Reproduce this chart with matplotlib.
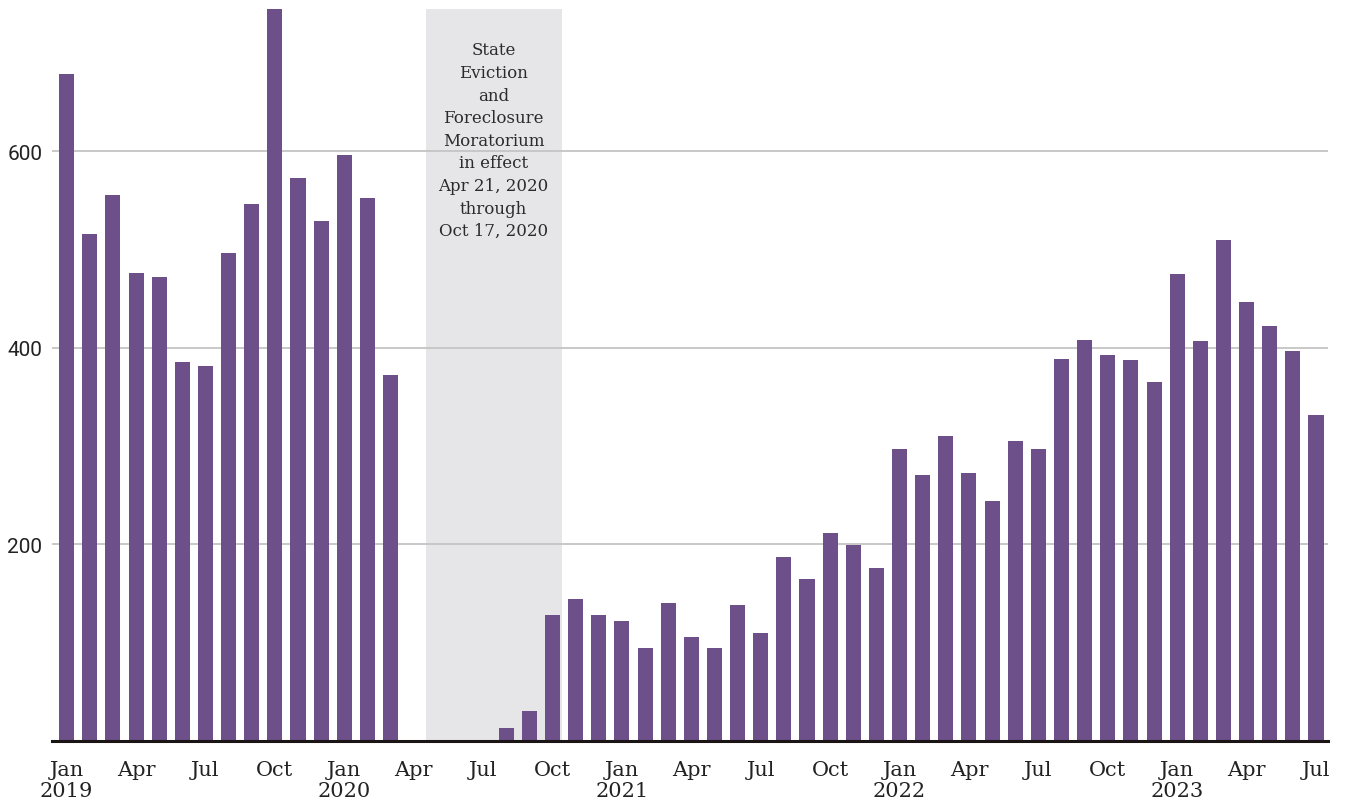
import matplotlib

matplotlib.use('Agg')

import matplotlib.pyplot as plt
import numpy as np

# monthly filings, Jan 2019 through Jul 2023
months = ['Jan', 'Feb', 'Mar', 'Apr', 'May', 'Jun', 'Jul', 'Aug', 'Sep', 'Oct', 'Nov', 'Dec']
years = [2019, 2020, 2021, 2022, 2023]

filings_2019 = [679, 516, 556, 476, 472, 386, 382, 497, 547, 745, 573, 529]
filings_2020 = [596, 553, 373, 0, 0, 0, 0, 13, 31, 128, 145, 128]
filings_2021 = [122, 95, 140, 106, 95, 138, 110, 187, 165, 212, 199, 176]
filings_2022 = [297, 271, 310, 273, 244, 305, 297, 389, 408, 393, 388, 365]
filings_2023 = [475, 407, 510, 447, 422, 397, 332]

moratorium_text = ('State\nEviction\nand\nForeclosure\nMoratorium\nin effect\n'
                   'Apr 21, 2020\nthrough\nOct 17, 2020')

filings = filings_2019 + filings_2020 + filings_2021 + filings_2022 + filings_2023
labels = []
for y in years:
    for m in months:
        labels.append((m, y))
labels = labels[:len(filings)]

bar_color = '#6d4f89'
shade_color = '#e6e6e8'
serif = 'DejaVu Serif'

fig = plt.figure(figsize=(13.48, 8.03), dpi=100)
ax = fig.add_axes([0.0386, 0.0760, 0.9466, 0.9115])

x = np.arange(len(filings))
ax.bar(x, filings, width=0.65, color=bar_color, zorder=2)

# moratorium period behind the bars, grid lines still visible across it
ax.axvspan(15.52, 21.39, color=shade_color, lw=0, zorder=0.5)
ax.text((15.52 + 21.39) / 2, 712, moratorium_text, ha='center', va='top',
        fontsize=12, family=serif, color='#2b2b2b', linespacing=1.43, zorder=4)

ax.set_xlim(-0.63, 54.52)
ax.set_ylim(0, 745)

ax.set_yticks([200, 400, 600])
ax.set_yticklabels(['200', '400', '600'], family='Roboto')
ax.yaxis.grid(True, color='#c4c4c4', lw=1.3, zorder=1)

ticks = [i for i in range(len(filings)) if i % 3 == 0]
tick_labels = []
for i in ticks:
    m, y = labels[i]
    tick_labels.append('%s\n%d' % (m, y) if m == 'Jan' else m)
ax.set_xticks(ticks)
ax.set_xticklabels(tick_labels, family=serif, fontsize=15, color='#222222',
                   linespacing=1.12)

ax.tick_params(axis='both', length=0)
ax.tick_params(axis='x', pad=14)
ax.tick_params(axis='y', pad=7, labelsize=15, labelcolor='#222222')

for side in ['top', 'right', 'left']:
    ax.spines[side].set_visible(False)
ax.spines['bottom'].set_color('#1a1414')
ax.spines['bottom'].set_linewidth(2.2)
ax.spines['bottom'].set_zorder(5)

fig.savefig('out.png', dpi=100)
